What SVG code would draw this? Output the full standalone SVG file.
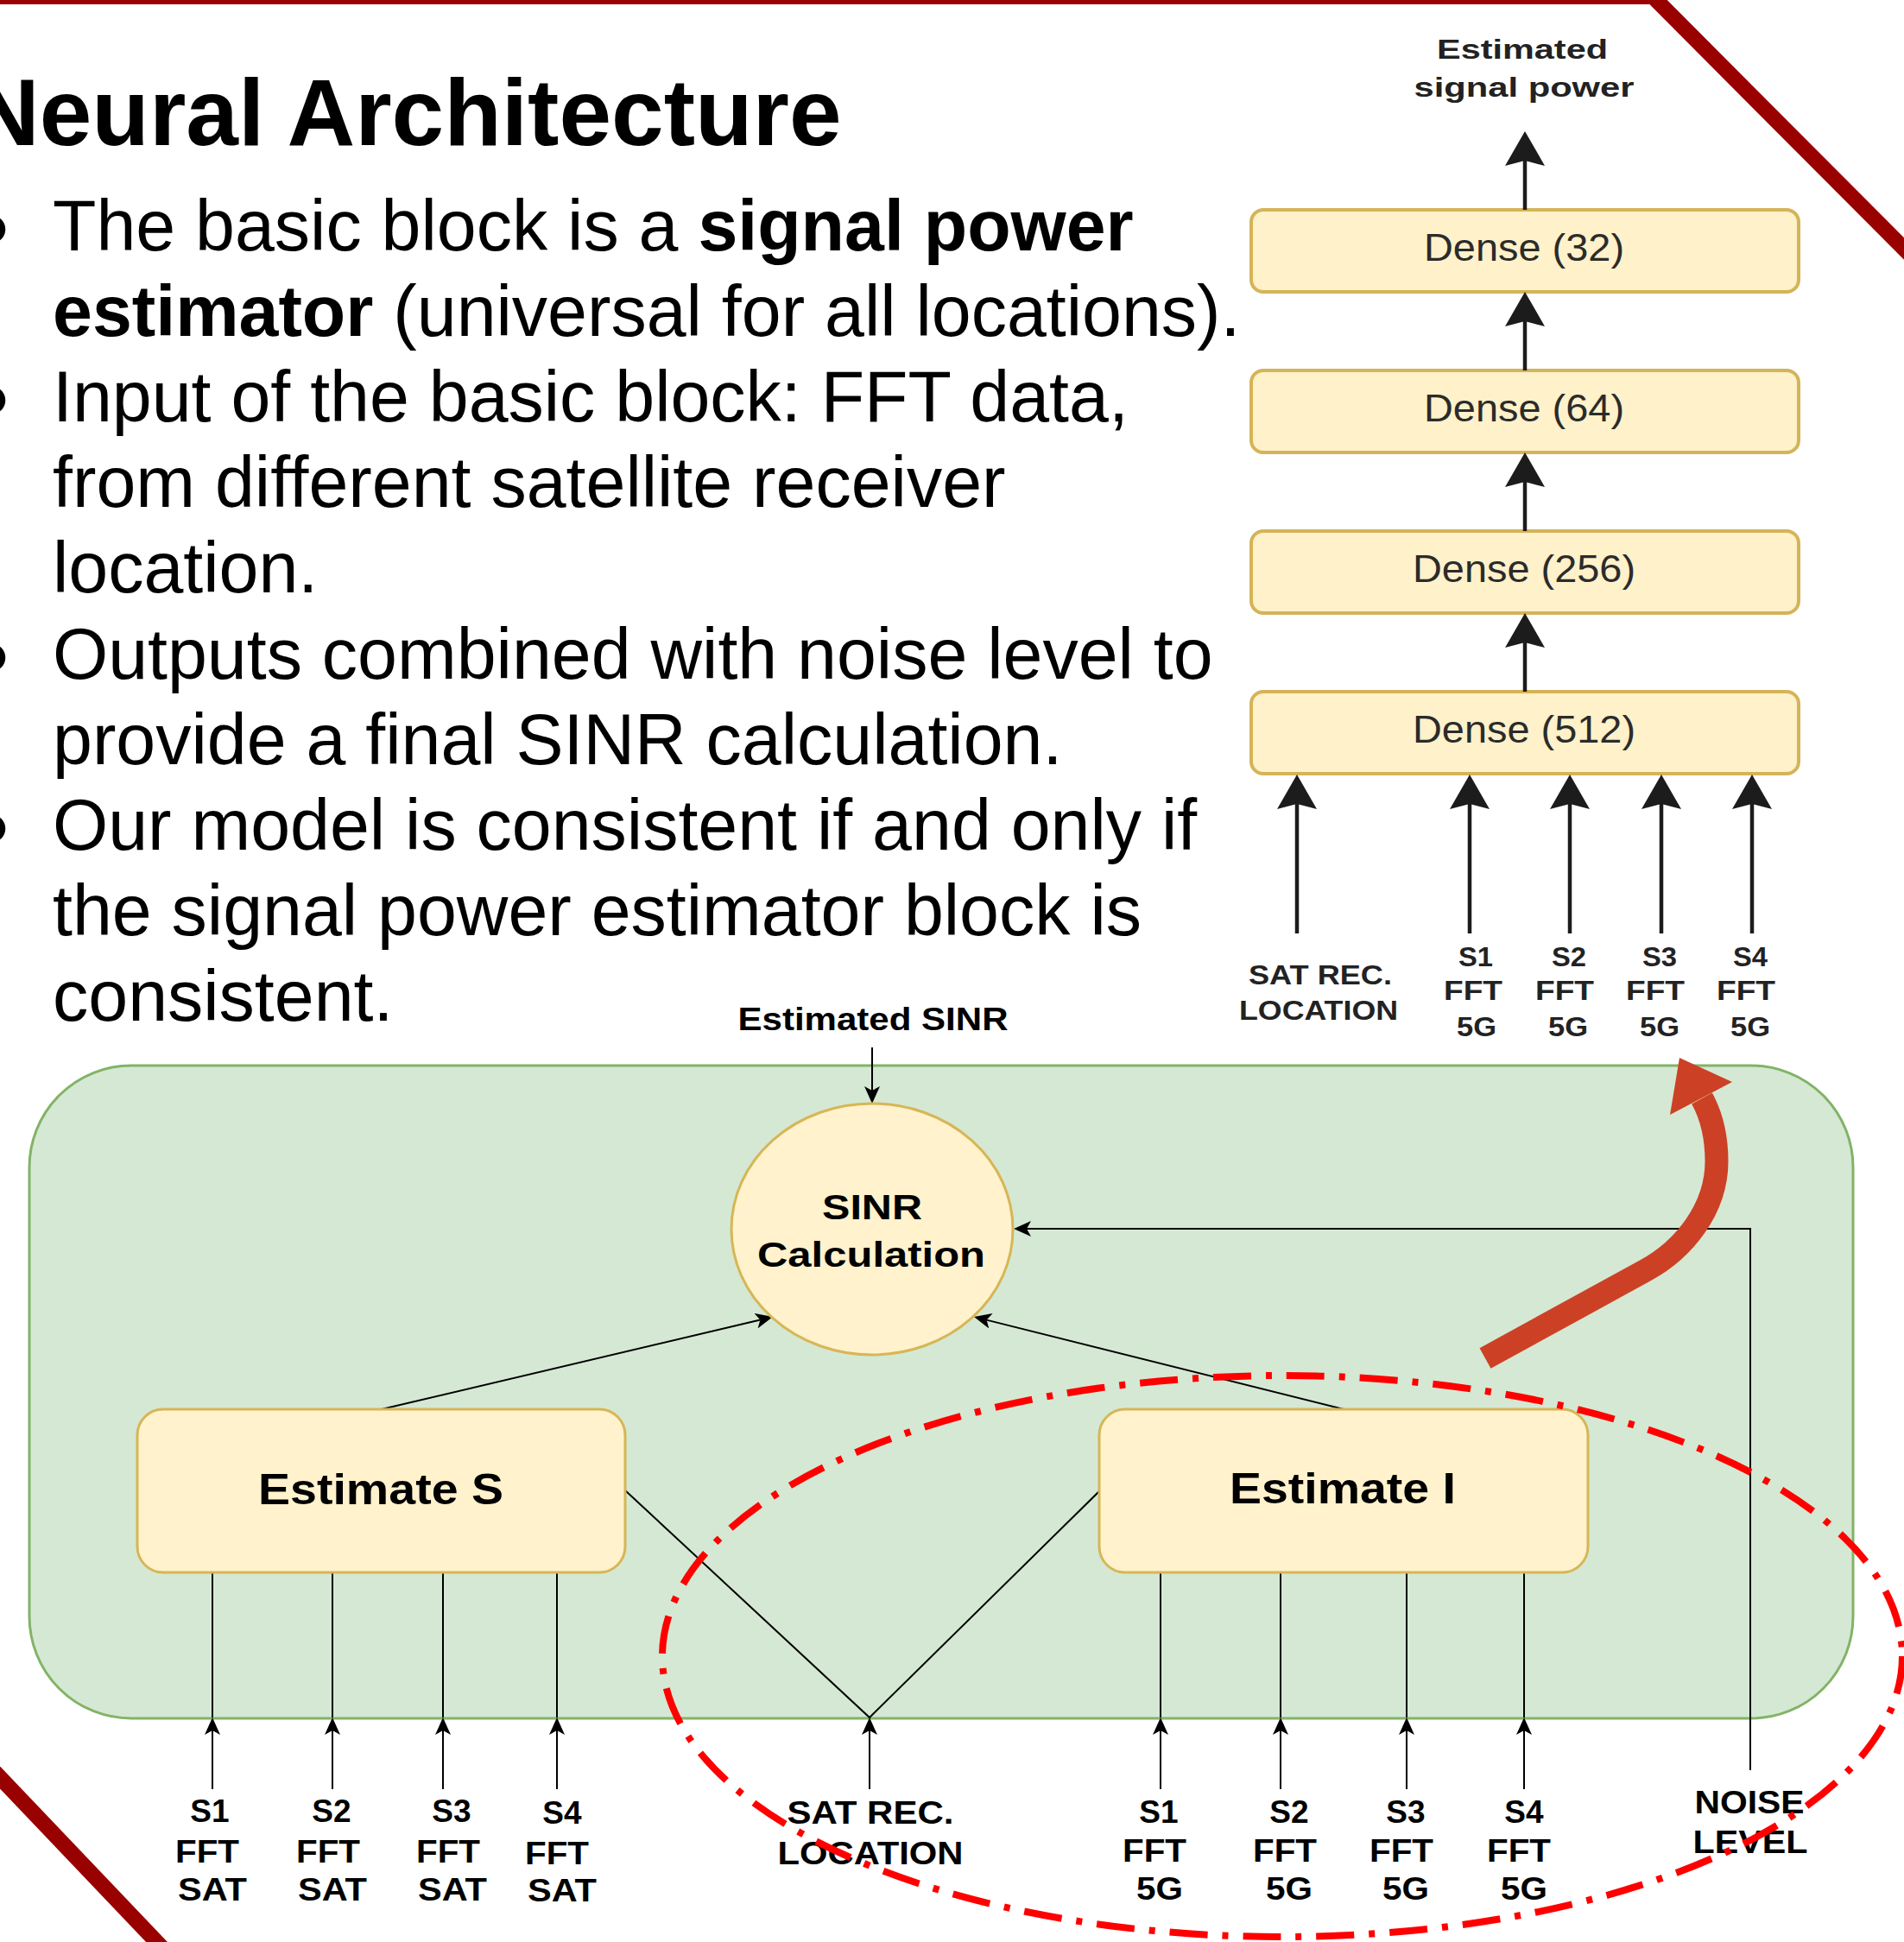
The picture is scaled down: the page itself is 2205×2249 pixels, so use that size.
<svg xmlns="http://www.w3.org/2000/svg" width="2205" height="2249" viewBox="0 0 2205 2249">
  <style>
    .body{font-family:"Liberation Sans",Arial,Helvetica,sans-serif;font-size:82.5px;fill:#000}
    .b{font-weight:bold}
    .title{font-family:"Liberation Sans",Arial,Helvetica,sans-serif;font-size:109px;font-weight:bold;fill:#000}
    .frame{stroke:#990000;fill:none}
    .dense{fill:#fff1c9;stroke:#d4b459;stroke-width:4}
    .dtext{font-family:"Liberation Sans",Arial,Helvetica,sans-serif;font-size:45px;fill:#2b2b2b;text-anchor:middle}
    .ulab{font-family:"Liberation Sans",Arial,Helvetica,sans-serif;font-size:31px;font-weight:bold;fill:#222;text-anchor:middle}
    .uedge{stroke:#1c1c1c;stroke-width:4.5;fill:none}
    .lab{font-family:"Liberation Sans",Arial,Helvetica,sans-serif;font-size:37px;font-weight:bold;fill:#000;text-anchor:middle}
    .edge{stroke:#000;stroke-width:2;fill:none}
    .node{fill:#fff2cc;stroke:#d6b656;stroke-width:3}
    .big{font-family:"Liberation Sans",Arial,Helvetica,sans-serif;font-weight:bold;fill:#000;text-anchor:middle}
  </style>
  <defs>
    <marker id="bigArrow" markerUnits="userSpaceOnUse" viewBox="0 0 40 46" markerWidth="40" markerHeight="46" refX="6" refY="23" orient="auto">
      <path d="M0,0 L40,23 L0,46 L6,23 Z" fill="#1c1c1c"/>
    </marker>
    <marker id="arrow" markerUnits="userSpaceOnUse" viewBox="0 0 20 18" markerWidth="20" markerHeight="18" refX="5" refY="9" orient="auto">
      <path d="M0,0 L20,9 L0,18 L5,9 Z" fill="#000"/>
    </marker>
  </defs>

  <rect x="0" y="0" width="2205" height="2249" fill="#ffffff"/>

  <!-- slide frame -->
  <g id="frame">
    <line class="frame" x1="-10" y1="0" x2="1922" y2="0" stroke-width="10"/>
    <line class="frame" x1="1912" y1="-6" x2="2220" y2="303" stroke-width="18"/>
    <line class="frame" x1="-10" y1="2048" x2="192" y2="2260" stroke-width="18"/>
  </g>

  <!-- title and bullet text -->
  <g id="slide-text">
    <text class="title" x="-33" y="168">Neural Architecture</text>
    <g class="body">
      <text x="-31" y="306" font-size="120">•</text>
      <text x="-31" y="504" font-size="120">•</text>
      <text x="-31" y="802" font-size="120">•</text>
      <text x="-31" y="1000" font-size="120">•</text>
      <text x="61" y="290">The basic block is a <tspan class="b">signal power</tspan></text>
      <text x="61" y="389"><tspan class="b">estimator</tspan> (universal for all locations).</text>
      <text x="61" y="488">Input of the basic block: FFT data,</text>
      <text x="61" y="587">from different satellite receiver</text>
      <text x="61" y="686">location.</text>
      <text x="61" y="786">Outputs combined with noise level to</text>
      <text x="61" y="885">provide a final SINR calculation.</text>
      <text x="61" y="984">Our model is consistent if and only if</text>
      <text x="61" y="1083">the signal power estimator block is</text>
      <text x="61" y="1182">consistent.</text>
    </g>
  </g>

  <!-- signal power estimator: stacked dense layers -->
  <g id="dense-32">
    <rect class="dense" x="1449" y="243" width="634" height="95" rx="14"/>
    <text class="dtext" x="1765" y="302" textLength="232" lengthAdjust="spacingAndGlyphs">Dense (32)</text>
  </g>
  <g id="dense-64">
    <rect class="dense" x="1449" y="429" width="634" height="95" rx="14"/>
    <text class="dtext" x="1765" y="488" textLength="232" lengthAdjust="spacingAndGlyphs">Dense (64)</text>
  </g>
  <g id="dense-256">
    <rect class="dense" x="1449" y="615" width="634" height="95" rx="14"/>
    <text class="dtext" x="1765" y="674" textLength="258" lengthAdjust="spacingAndGlyphs">Dense (256)</text>
  </g>
  <g id="dense-512">
    <rect class="dense" x="1449" y="801" width="634" height="95" rx="14"/>
    <text class="dtext" x="1765" y="860" textLength="258" lengthAdjust="spacingAndGlyphs">Dense (512)</text>
  </g>
  <g id="estimator-labels">
    <text class="ulab" x="1763" y="68" font-size="37" textLength="198" lengthAdjust="spacingAndGlyphs">Estimated</text>
    <text class="ulab" x="1765" y="112" font-size="37" textLength="255" lengthAdjust="spacingAndGlyphs">signal power</text>
    <text class="ulab" x="1529" y="1140" textLength="166" lengthAdjust="spacingAndGlyphs">SAT REC.</text>
    <text class="ulab" x="1527" y="1181" textLength="184" lengthAdjust="spacingAndGlyphs">LOCATION</text>
    <text class="ulab" x="1709" y="1119" textLength="40" lengthAdjust="spacingAndGlyphs">S1</text>
    <text class="ulab" x="1706" y="1158" textLength="68" lengthAdjust="spacingAndGlyphs">FFT</text>
    <text class="ulab" x="1710" y="1200" textLength="46" lengthAdjust="spacingAndGlyphs">5G</text>
    <text class="ulab" x="1817" y="1119" textLength="40" lengthAdjust="spacingAndGlyphs">S2</text>
    <text class="ulab" x="1812" y="1158" textLength="68" lengthAdjust="spacingAndGlyphs">FFT</text>
    <text class="ulab" x="1816" y="1200" textLength="46" lengthAdjust="spacingAndGlyphs">5G</text>
    <text class="ulab" x="1922" y="1119" textLength="40" lengthAdjust="spacingAndGlyphs">S3</text>
    <text class="ulab" x="1917" y="1158" textLength="68" lengthAdjust="spacingAndGlyphs">FFT</text>
    <text class="ulab" x="1922" y="1200" textLength="46" lengthAdjust="spacingAndGlyphs">5G</text>
    <text class="ulab" x="2027" y="1119" textLength="40" lengthAdjust="spacingAndGlyphs">S4</text>
    <text class="ulab" x="2022" y="1158" textLength="68" lengthAdjust="spacingAndGlyphs">FFT</text>
    <text class="ulab" x="2027" y="1200" textLength="46" lengthAdjust="spacingAndGlyphs">5G</text>
  </g>

  <!-- SINR model container -->
  <g id="sinr-model">
    <rect x="34" y="1234" width="2112" height="756" rx="118" fill="#d5e8d4" stroke="#82b366" stroke-width="3"/>
  </g>

  <!-- connectors -->
  <g id="connectors">
    <g id="estimator-edges" class="uedge">
      <line x1="1766" y1="243" x2="1766" y2="186" marker-end="url(#bigArrow)"/>
      <line x1="1766" y1="429" x2="1766" y2="372" marker-end="url(#bigArrow)"/>
      <line x1="1766" y1="615" x2="1766" y2="558" marker-end="url(#bigArrow)"/>
      <line x1="1766" y1="801" x2="1766" y2="744" marker-end="url(#bigArrow)"/>
      <line x1="1502" y1="1081" x2="1502" y2="931" marker-end="url(#bigArrow)"/>
      <line x1="1702" y1="1081" x2="1702" y2="931" marker-end="url(#bigArrow)"/>
      <line x1="1818" y1="1081" x2="1818" y2="931" marker-end="url(#bigArrow)"/>
      <line x1="1924" y1="1081" x2="1924" y2="931" marker-end="url(#bigArrow)"/>
      <line x1="2029" y1="1081" x2="2029" y2="931" marker-end="url(#bigArrow)"/>
    </g>
    <g id="model-edges" class="edge">
      <!-- SINR output -->
      <line x1="1010" y1="1213" x2="1010" y2="1263" marker-end="url(#arrow)"/>
      <!-- estimators into SINR -->
      <line x1="442" y1="1632" x2="880.4" y2="1528.5" marker-end="url(#arrow)"/>
      <line x1="1556" y1="1632" x2="1142.6" y2="1528.6" marker-end="url(#arrow)"/>
      <!-- noise level -->
      <polyline points="2027,2050 2027,1423 1189,1423" marker-end="url(#arrow)"/>
      <!-- receiver location into both estimators -->
      <line x1="1007" y1="2072" x2="1007" y2="2004" marker-end="url(#arrow)"/>
      <polyline points="724,1726 1007,1989 1273,1727"/>
      <!-- satellite FFT inputs -->
      <line x1="246" y1="2072" x2="246" y2="2004" marker-end="url(#arrow)"/>
      <line x1="246" y1="1989" x2="246" y2="1821"/>
      <line x1="385" y1="2072" x2="385" y2="2004" marker-end="url(#arrow)"/>
      <line x1="385" y1="1989" x2="385" y2="1821"/>
      <line x1="513" y1="2072" x2="513" y2="2004" marker-end="url(#arrow)"/>
      <line x1="513" y1="1989" x2="513" y2="1821"/>
      <line x1="645" y1="2072" x2="645" y2="2004" marker-end="url(#arrow)"/>
      <line x1="645" y1="1989" x2="645" y2="1821"/>
      <!-- 5G FFT inputs -->
      <line x1="1344" y1="2072" x2="1344" y2="2004" marker-end="url(#arrow)"/>
      <line x1="1344" y1="1989" x2="1344" y2="1821"/>
      <line x1="1483" y1="2072" x2="1483" y2="2004" marker-end="url(#arrow)"/>
      <line x1="1483" y1="1989" x2="1483" y2="1821"/>
      <line x1="1629" y1="2072" x2="1629" y2="2004" marker-end="url(#arrow)"/>
      <line x1="1629" y1="1989" x2="1629" y2="1821"/>
      <line x1="1765" y1="2072" x2="1765" y2="2004" marker-end="url(#arrow)"/>
      <line x1="1765" y1="1989" x2="1765" y2="1821"/>
    </g>
  </g>

  <!-- model nodes -->
  <g id="sinr-calculation">
    <ellipse class="node" cx="1010" cy="1423.5" rx="163" ry="145.5"/>
    <text class="big" x="1010" y="1412" font-size="41" textLength="116" lengthAdjust="spacingAndGlyphs">SINR</text>
    <text class="big" x="1009" y="1467" font-size="41" textLength="264" lengthAdjust="spacingAndGlyphs">Calculation</text>
  </g>
  <g id="estimate-s">
    <rect class="node" x="159" y="1632" width="565" height="189" rx="30"/>
    <text class="big" x="441" y="1742" font-size="50" textLength="284" lengthAdjust="spacingAndGlyphs">Estimate S</text>
  </g>
  <g id="estimate-i">
    <rect class="node" x="1273" y="1632" width="566" height="189" rx="30"/>
    <text class="big" x="1555" y="1741" font-size="50" textLength="262" lengthAdjust="spacingAndGlyphs">Estimate I</text>
  </g>

  <!-- model input / output labels -->
  <g id="model-labels">
    <text class="lab" x="1011" y="1193" font-size="37" textLength="313" lengthAdjust="spacingAndGlyphs">Estimated SINR</text>
    <text class="lab" x="243" y="2110">S1</text>
    <text class="lab" x="240" y="2157" textLength="74" lengthAdjust="spacingAndGlyphs">FFT</text>
    <text class="lab" x="246" y="2201" textLength="80" lengthAdjust="spacingAndGlyphs">SAT</text>
    <text class="lab" x="384" y="2110">S2</text>
    <text class="lab" x="380" y="2157" textLength="74" lengthAdjust="spacingAndGlyphs">FFT</text>
    <text class="lab" x="385" y="2201" textLength="80" lengthAdjust="spacingAndGlyphs">SAT</text>
    <text class="lab" x="523" y="2110">S3</text>
    <text class="lab" x="519" y="2157" textLength="74" lengthAdjust="spacingAndGlyphs">FFT</text>
    <text class="lab" x="524" y="2201" textLength="80" lengthAdjust="spacingAndGlyphs">SAT</text>
    <text class="lab" x="651" y="2112">S4</text>
    <text class="lab" x="645" y="2159" textLength="74" lengthAdjust="spacingAndGlyphs">FFT</text>
    <text class="lab" x="651" y="2202" textLength="80" lengthAdjust="spacingAndGlyphs">SAT</text>
    <text class="lab" x="1008" y="2112" textLength="193" lengthAdjust="spacingAndGlyphs">SAT REC.</text>
    <text class="lab" x="1008" y="2159" textLength="215" lengthAdjust="spacingAndGlyphs">LOCATION</text>
    <text class="lab" x="1342" y="2111">S1</text>
    <text class="lab" x="1337" y="2156" textLength="74" lengthAdjust="spacingAndGlyphs">FFT</text>
    <text class="lab" x="1343" y="2200" textLength="54" lengthAdjust="spacingAndGlyphs">5G</text>
    <text class="lab" x="1493" y="2111">S2</text>
    <text class="lab" x="1488" y="2156" textLength="74" lengthAdjust="spacingAndGlyphs">FFT</text>
    <text class="lab" x="1493" y="2200" textLength="54" lengthAdjust="spacingAndGlyphs">5G</text>
    <text class="lab" x="1628" y="2111">S3</text>
    <text class="lab" x="1623" y="2156" textLength="74" lengthAdjust="spacingAndGlyphs">FFT</text>
    <text class="lab" x="1628" y="2200" textLength="54" lengthAdjust="spacingAndGlyphs">5G</text>
    <text class="lab" x="1765" y="2111">S4</text>
    <text class="lab" x="1759" y="2156" textLength="74" lengthAdjust="spacingAndGlyphs">FFT</text>
    <text class="lab" x="1765" y="2200" textLength="54" lengthAdjust="spacingAndGlyphs">5G</text>
    <text class="lab" x="2026" y="2100" textLength="127" lengthAdjust="spacingAndGlyphs">NOISE</text>
    <text class="lab" x="2027" y="2146" textLength="133" lengthAdjust="spacingAndGlyphs">LEVEL</text>
  </g>

  <!-- highlight: interference estimator maps onto the signal power block -->
  <g id="highlight">
    <ellipse cx="1485" cy="1918" rx="718" ry="325" fill="none" stroke="#ff0000" stroke-width="8" stroke-dasharray="44 17 7 17"/>
    <path d="M1720,1573 L1906,1471 C1950,1447 1988,1400 1988,1345 C1988,1315 1982,1292 1971,1272" fill="none" stroke="#cc4125" stroke-width="27"/>
    <polygon points="1945,1225 2006,1253 1934,1291" fill="#cc4125"/>
  </g>
</svg>
